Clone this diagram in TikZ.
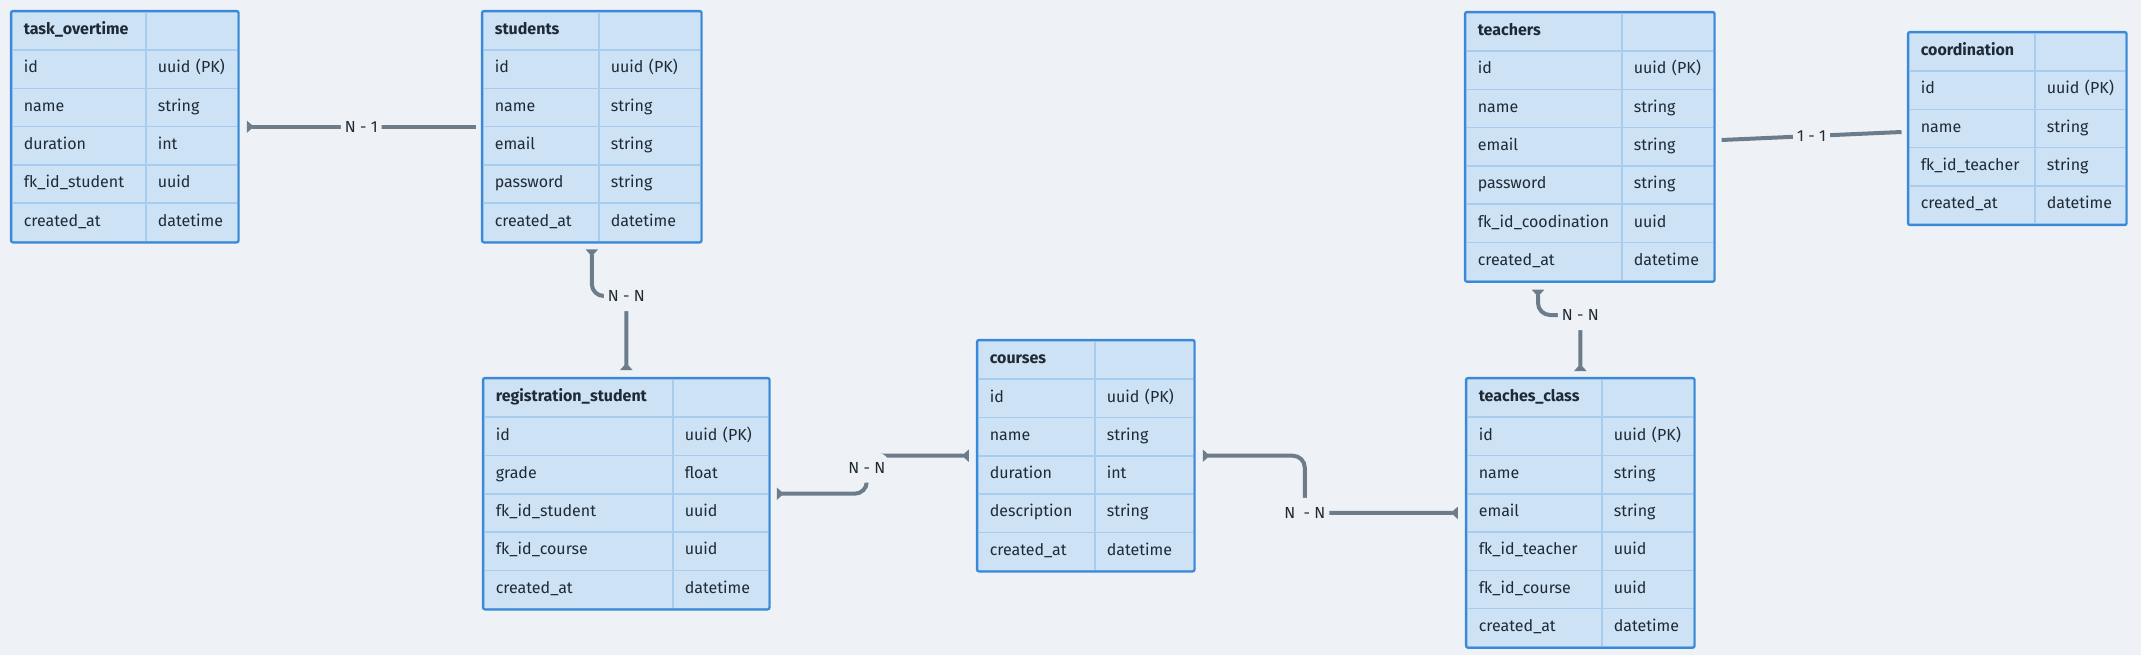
\documentclass[tikz,border=0pt]{standalone}
\usepackage{fontspec}
\setmainfont{Fira Sans}
\usepackage{tikz}
\usetikzlibrary{matrix,arrows.meta}

\definecolor{bgcol}{HTML}{EEF2F7}
\definecolor{cellfill}{HTML}{CDE2F5}
\definecolor{cellline}{HTML}{A8CCEE}
\definecolor{framecol}{HTML}{3A89D8}
\definecolor{txtcol}{HTML}{1F2A36}
\definecolor{relcol}{HTML}{6C7C8A}

\newcommand\tblfont{\fontsize{16}{19}\selectfont}

\tikzset{
  fk/.tip={Triangle[reversed,width=12pt,length=7pt]},
  cell/.style={draw=cellline, fill=cellfill, line width=1.6pt, inner sep=0pt,
    outer sep=0pt, minimum height=38.3pt, text height=11pt, text depth=3.5pt, align=left,
    text=txtcol, font=\tblfont, execute at begin node={\hspace*{12pt}}},
  tbl/.style 2 args={matrix of nodes, nodes in empty cells, anchor=north west,
    inner sep=0pt, outer sep=0pt, row sep=-1.6pt, column sep=-1.6pt, nodes={cell},
    row 1/.style={nodes={font=\tblfont\bfseries}},
    column 1/.style={nodes={text width=#1}},
    column 2/.style={nodes={text width=#2}}},
  tblframe/.style={draw=framecol, line width=2.2pt, rounded corners=2pt},
  rel/.style={draw=relcol, line width=4pt, rounded corners=12pt},
  lbl/.style={fill=bgcol, text=txtcol, font=\tblfont, inner xsep=4pt, inner ysep=0pt,
    minimum height=30pt}
}

\begin{document}
\begin{tikzpicture}[x=1pt,y=1pt]
\useasboundingbox[fill=bgcol] (0,0) rectangle (2141,-655);

% tables
\matrix (task) [tbl={134pt}{92pt}] at (11,-11) {
  task\_overtime & \\
  id & uuid (PK) \\
  name & string \\
  duration & int \\
  fk\_id\_student & uuid \\
  created\_at & datetime \\
};
\matrix (students) [tbl={116pt}{102pt}] at (482,-11) {
  students & \\
  id & uuid (PK) \\
  name & string \\
  email & string \\
  password & string \\
  created\_at & datetime \\
};
\matrix (registration) [tbl={189pt}{96pt}] at (483,-378) {
  registration\_student & \\
  id & uuid (PK) \\
  grade & float \\
  fk\_id\_student & uuid \\
  fk\_id\_course & uuid \\
  created\_at & datetime \\
};
\matrix (courses) [tbl={117pt}{99pt}] at (977,-340) {
  courses & \\
  id & uuid (PK) \\
  name & string \\
  duration & int \\
  description & string \\
  created\_at & datetime \\
};
\matrix (teaches) [tbl={135pt}{92pt}] at (1466,-378) {
  teaches\_class & \\
  id & uuid (PK) \\
  name & string \\
  email & string \\
  fk\_id\_teacher & uuid \\
  fk\_id\_course & uuid \\
  created\_at & datetime \\
};
\matrix (teachers) [tbl={156pt}{92pt}] at (1465,-12) {
  teachers & \\
  id & uuid (PK) \\
  name & string \\
  email & string \\
  password & string \\
  fk\_id\_coodination & uuid \\
  created\_at & datetime \\
};
\matrix (coordination) [tbl={126pt}{91pt}] at (1908,-32) {
  coordination & \\
  id & uuid (PK) \\
  name & string \\
  fk\_id\_teacher & string \\
  created\_at & datetime \\
};

\foreach \t in {task,students,registration,courses,teaches,teachers,coordination}
  \draw[tblframe] (\t.north west) rectangle (\t.south east);

% relations
\draw[rel,-fk] ([xshift=-7pt]students-3-1.south west) -- node[lbl]{N - 1} ([xshift=9pt]task-3-2.south east);
\draw[rel,fk-fk] ([yshift=8pt]registration.north) -- ++(0,74) node[lbl]{N - N} -| ([yshift=-7pt]students.south);
\draw[rel,fk-fk] ([xshift=-9pt]courses-3-1.south west) -- ++(-102,0) node[lbl,yshift=-12pt]{N - N}
  |- ([xshift=8pt]registration-3-2.south east);
\draw[rel,fk-fk] ([xshift=9pt]courses-3-2.south east) -- ++(102,0) |- node[lbl]{N~ - N} ([xshift=-9pt]teaches-4-1.west);
\draw[rel,fk-fk] ([yshift=7pt]teaches.north) -- ++(0,56) node[lbl]{N - N} -| ([xshift=73pt,yshift=-8pt]teachers.south west);
\draw[rel] ([xshift=7pt,yshift=-128pt]teachers.north east) -- node[lbl]{1 - 1} ([xshift=-6.5pt,yshift=-100pt]coordination.north west);
\end{tikzpicture}
\end{document}
